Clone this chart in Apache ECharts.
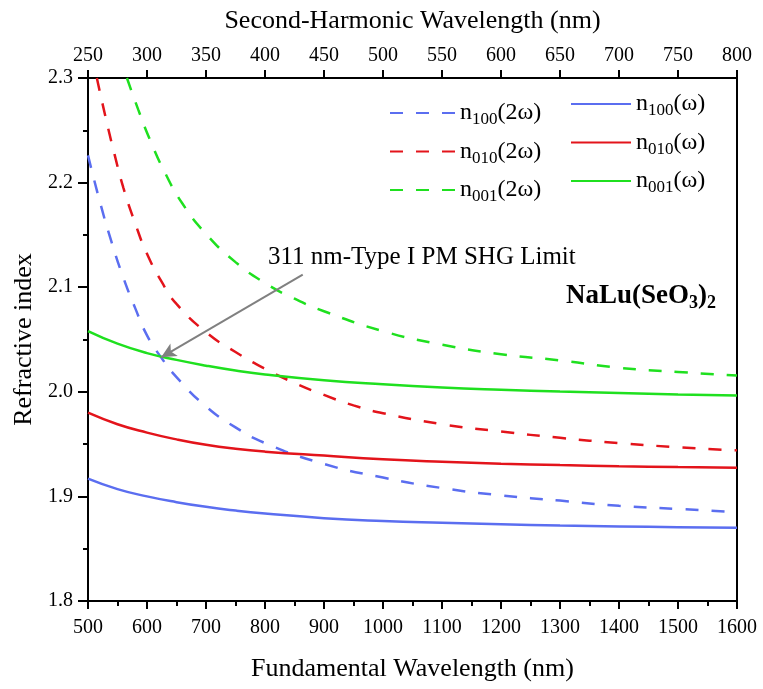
<!DOCTYPE html>
<html>
<head>
<meta charset="utf-8">
<title>NaLu(SeO3)2 refractive index dispersion</title>
<script src="https://cdn.jsdelivr.net/npm/echarts@6/dist/echarts.min.js"></script>
<style>
  html, body { margin: 0; padding: 0; background: #ffffff; }
  #chart { width: 763px; height: 689px; }
</style>
</head>
<body>
<div id="chart"></div>
<script>
// Fundamental wavelength (nm) sampling for the n(ω) curves
const fundX = [500, 550, 600, 650, 700, 750, 800, 900, 1000, 1100, 1200, 1300, 1400, 1500, 1600];
const n100_w = [1.917, 1.907, 1.900, 1.8945, 1.8900, 1.8865, 1.8837, 1.8792, 1.8765, 1.8748, 1.8734, 1.8722, 1.8713, 1.8706, 1.8700];
const n010_w = [1.980, 1.969, 1.961, 1.9545, 1.9493, 1.9455, 1.9428, 1.9390, 1.9355, 1.9331, 1.9313, 1.9299, 1.9288, 1.9280, 1.9273];
const n001_w = [2.058, 2.046, 2.037, 2.0305, 2.0250, 2.0203, 2.0165, 2.0110, 2.0072, 2.0042, 2.0020, 2.0002, 1.9988, 1.9975, 1.9965];

// n(2ω) curves, plotted against the fundamental wavelength
const x100_2w = [500, 520, 540, 560, 580, 600, 625, 650, 700, 750, 800, 900, 1000, 1100, 1200, 1300, 1400, 1500, 1600];
const n100_2w = [2.226, 2.182, 2.143, 2.109, 2.080, 2.054, 2.032, 2.014, 1.986, 1.966, 1.951, 1.931, 1.918, 1.908, 1.901, 1.896, 1.891, 1.888, 1.885];
const x010_2w = [515, 530, 545, 560, 580, 600, 625, 650, 700, 750, 800, 850, 900, 950, 1000, 1100, 1200, 1300, 1400, 1500, 1600];
const n010_2w = [2.300, 2.262, 2.227, 2.195, 2.161, 2.132, 2.105, 2.084, 2.057, 2.038, 2.022, 2.0085, 1.997, 1.987, 1.9795, 1.969, 1.962, 1.956, 1.951, 1.947, 1.944];
const x001_2w = [566, 585, 605, 630, 660, 700, 750, 800, 850, 900, 1000, 1100, 1200, 1300, 1400, 1500, 1600];
const n001_2w = [2.300, 2.270, 2.241, 2.210, 2.180, 2.151, 2.124, 2.104, 2.089, 2.077, 2.058, 2.045, 2.036, 2.030, 2.023, 2.019, 2.0155];

// Phase-matching cut-off: arrow from the label to the n100(2ω) / n001(ω) crossing
const pmArrowFrom = [864, 2.112];
const pmArrowTo = [624, 2.033];

const FONT = "'Liberation Serif', 'Times New Roman', serif";
const BLUE = '#5b6ef0';
const RED = '#e3141b';
const GREEN = '#1fe01f';
const DASH = [13, 13];

function pairs(xs, ys) { return xs.map((x, i) => [x, ys[i]]); }

function lineSeries(name, xs, ys, color, dashed, extra) {
  return Object.assign({
    name: name,
    type: 'line',
    xAxisIndex: 0,
    yAxisIndex: 0,
    data: pairs(xs, ys),
    showSymbol: false,
    symbol: 'none',
    smooth: 0.5,
    clip: true,
    color: color,
    lineStyle: { color: color, width: 2.5, type: dashed ? DASH : 'solid' },
    emphasis: { disabled: true }
  }, extra || {});
}

const richLegend = {
  t: { fontFamily: FONT, fontSize: 24, color: '#000' },
  s: { fontFamily: FONT, fontSize: 17, color: '#000', padding: [14, 0, 0, 0] }
};
function legendLabel(name) {
  const m = name.match(/^n(\d+)\((.*)\)$/);
  return '{t|n}{s|' + m[1] + '}{t|(' + m[2] + ')}';
}

function legendBlock(names, left, top, itemWidth) {
  return {
    data: names,
    orient: 'vertical', left: left, top: top, padding: 0,
    itemWidth: itemWidth, itemHeight: 14, itemGap: 11,
    itemStyle: { opacity: 0 },
    formatter: legendLabel,
    textStyle: { rich: richLegend },
    selectedMode: false
  };
}

const chart = echarts.init(document.getElementById('chart'), null, { renderer: 'canvas' });

const option = {
  animation: false,
  backgroundColor: '#ffffff',
  grid: {
    left: 88, right: 26, top: 78, bottom: 88,
    show: true, borderColor: '#000', borderWidth: 2, backgroundColor: 'transparent'
  },
  legend: [
    legendBlock(['n100(2ω)', 'n010(2ω)', 'n001(2ω)'], 389, 101, 65),
    legendBlock(['n100(ω)', 'n010(ω)', 'n001(ω)'], 570, 92, 60)
  ],
  xAxis: [
    {
      type: 'value', position: 'bottom',
      min: 500, max: 1600, interval: 100,
      name: 'Fundamental Wavelength (nm)', nameLocation: 'middle', nameGap: 55,
      nameTextStyle: { fontFamily: FONT, fontSize: 26, color: '#000' },
      axisLine: { show: true, onZero: false, lineStyle: { color: '#000', width: 2 } },
      axisTick: { show: true, length: 8, lineStyle: { color: '#000', width: 2 } },
      minorTick: { show: true, splitNumber: 2, length: 5, lineStyle: { color: '#000', width: 2 } },
      axisLabel: { fontFamily: FONT, fontSize: 20, color: '#000', margin: 17, formatter: v => String(v) },
      splitLine: { show: false }
    },
    {
      type: 'value', position: 'top',
      min: 250, max: 800, interval: 50,
      name: 'Second-Harmonic Wavelength (nm)', nameLocation: 'middle', nameGap: 44,
      nameTextStyle: { fontFamily: FONT, fontSize: 26, color: '#000' },
      axisLine: { show: true, onZero: false, lineStyle: { color: '#000', width: 2 } },
      axisTick: { show: true, length: 8, lineStyle: { color: '#000', width: 2 } },
      axisLabel: { fontFamily: FONT, fontSize: 20, color: '#000', margin: 12, formatter: v => String(v) },
      splitLine: { show: false }
    }
  ],
  yAxis: [
    {
      type: 'value', position: 'left',
      min: 1.8, max: 2.3, interval: 0.1,
      name: 'Refractive index', nameLocation: 'middle', nameGap: 44, nameRotate: 90,
      nameTextStyle: { fontFamily: FONT, fontSize: 26, color: '#000' },
      axisLine: { show: true, onZero: false, lineStyle: { color: '#000', width: 2 } },
      axisTick: { show: true, length: 10, lineStyle: { color: '#000', width: 2 } },
      minorTick: { show: true, splitNumber: 2, length: 5, lineStyle: { color: '#000', width: 2 } },
      axisLabel: {
        fontFamily: FONT, fontSize: 20, color: '#000', margin: 15,
        formatter: v => v.toFixed(1)
      },
      splitLine: { show: false }
    }
  ],
  series: [
    lineSeries('n100(2ω)', x100_2w, n100_2w, BLUE, true, {
      markLine: {
        silent: true,
        animation: false,
        symbol: ['none', 'arrow'],
        symbolSize: [11, 15],
        label: { show: false },
        lineStyle: { color: '#808080', width: 2, type: 'solid' },
        emphasis: { disabled: true },
        data: [[{ coord: pmArrowFrom }, { coord: pmArrowTo }]]
      }
    }),
    lineSeries('n010(2ω)', x010_2w, n010_2w, RED, true),
    lineSeries('n001(2ω)', x001_2w, n001_2w, GREEN, true),
    lineSeries('n100(ω)', fundX, n100_w, BLUE, false),
    lineSeries('n010(ω)', fundX, n010_w, RED, false),
    lineSeries('n001(ω)', fundX, n001_w, GREEN, false)
  ],
  graphic: [
    {
      type: 'text', left: 268, top: 245, silent: true,
      style: {
        text: '311 nm-Type I PM SHG Limit',
        font: '25px ' + FONT, fill: '#000'
      }
    },
    {
      type: 'text', left: 566, top: 283, silent: true,
      style: {
        text: '{b|NaLu(SeO}{s|3}{b|)}{s|2}',
        fill: '#000',
        rich: {
          b: { fontFamily: FONT, fontWeight: 'bold', fontSize: 27, color: '#000' },
          s: { fontFamily: FONT, fontWeight: 'bold', fontSize: 18, color: '#000', padding: [14, 0, 0, 0] }
        }
      }
    }
  ]
};

chart.setOption(option);
</script>
</body>
</html>
